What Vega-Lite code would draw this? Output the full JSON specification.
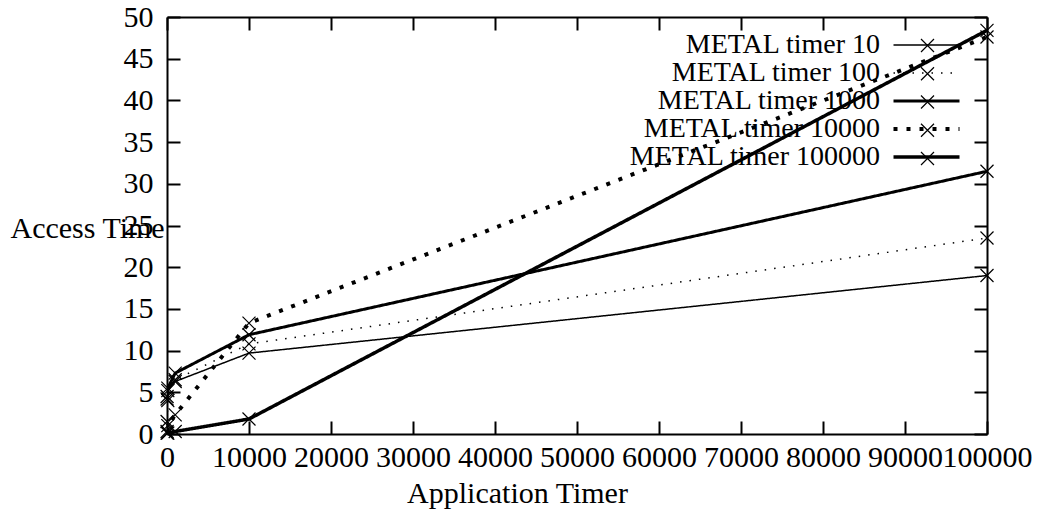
{
  "$schema": "https://vega.github.io/schema/vega-lite/v6.json",
  "width": 820,
  "height": 417,
  "autosize": {"type": "none"},
  "padding": {"left": 167, "top": 17, "right": 50, "bottom": 85},
  "background": "white",
  "data": {
    "values": [
      {"series": "METAL timer 10", "app": 10, "t": 4.5},
      {"series": "METAL timer 10", "app": 100, "t": 5.2},
      {"series": "METAL timer 10", "app": 1000, "t": 6.3},
      {"series": "METAL timer 10", "app": 10000, "t": 9.7},
      {"series": "METAL timer 10", "app": 100000, "t": 19.0},
      {"series": "METAL timer 100", "app": 10, "t": 1.5},
      {"series": "METAL timer 100", "app": 100, "t": 4.0},
      {"series": "METAL timer 100", "app": 1000, "t": 6.5},
      {"series": "METAL timer 100", "app": 10000, "t": 10.8},
      {"series": "METAL timer 100", "app": 100000, "t": 23.5},
      {"series": "METAL timer 1000", "app": 10, "t": 4.2},
      {"series": "METAL timer 1000", "app": 100, "t": 5.5},
      {"series": "METAL timer 1000", "app": 1000, "t": 7.3},
      {"series": "METAL timer 1000", "app": 10000, "t": 11.9},
      {"series": "METAL timer 1000", "app": 100000, "t": 31.5},
      {"series": "METAL timer 10000", "app": 10, "t": 0.3},
      {"series": "METAL timer 10000", "app": 100, "t": 1.0},
      {"series": "METAL timer 10000", "app": 1000, "t": 2.3},
      {"series": "METAL timer 10000", "app": 10000, "t": 13.3},
      {"series": "METAL timer 10000", "app": 100000, "t": 47.6},
      {"series": "METAL timer 100000", "app": 10, "t": 0.1},
      {"series": "METAL timer 100000", "app": 100, "t": 0.1},
      {"series": "METAL timer 100000", "app": 1000, "t": 0.3},
      {"series": "METAL timer 100000", "app": 10000, "t": 1.8},
      {"series": "METAL timer 100000", "app": 100000, "t": 48.4}
    ]
  },
  "layer": [
    {
      "mark": {"type": "line", "color": "black", "strokeCap": "butt", "clip": true},
      "encoding": {
        "x": {
          "field": "app", "type": "quantitative",
          "scale": {"domain": [0, 100000], "nice": false, "zero": false},
          "axis": {
            "orient": "bottom",
            "values": [0, 10000, 20000, 30000, 40000, 50000, 60000, 70000, 80000, 90000, 100000],
            "format": "d",
            "title": "Application Timer",
            "labelPadding": 21,
            "titleX": 350,
            "titleY": 68,
            "titleAlign": "center",
            "titleBaseline": "alphabetic"
          }
        },
        "y": {
          "field": "t", "type": "quantitative",
          "scale": {"domain": [0, 50], "nice": false, "zero": false},
          "axis": {
            "orient": "left",
            "values": [0, 5, 10, 15, 20, 25, 30, 35, 40, 45, 50],
            "title": "Access Time",
            "labelPadding": 27,
            "titleAngle": 0,
            "titleAlign": "left",
            "titleBaseline": "alphabetic",
            "titleX": -157,
            "titleY": 220
          }
        },
        "strokeDash": {
          "field": "series", "type": "nominal",
          "scale": {
            "domain": ["METAL timer 10", "METAL timer 100", "METAL timer 1000", "METAL timer 10000", "METAL timer 100000"],
            "range": [[1, 0], [1.5, 8], [1, 0], [4, 9], [1, 0]]
          },
          "legend": {"title": null}
        },
        "strokeWidth": {
          "field": "series", "type": "nominal",
          "scale": {
            "type": "ordinal",
            "domain": ["METAL timer 10", "METAL timer 100", "METAL timer 1000", "METAL timer 10000", "METAL timer 100000"],
            "range": [1.5, 1.5, 3, 4, 3.5]
          },
          "legend": {"title": null}
        },
        "order": {"field": "app", "type": "quantitative"}
      }
    },
    {
      "mark": {
        "type": "point",
        "filled": false,
        "color": "black",
        "strokeWidth": 1.2,
        "size": 169,
        "opacity": 1
      },
      "encoding": {
        "x": {
          "field": "app", "type": "quantitative",
          "axis": {
            "orient": "top",
            "values": [0, 10000, 20000, 30000, 40000, 50000, 60000, 70000, 80000, 90000, 100000],
            "labels": false,
            "title": null
          }
        },
        "y": {
          "field": "t", "type": "quantitative",
          "axis": {
            "orient": "right",
            "values": [0, 5, 10, 15, 20, 25, 30, 35, 40, 45, 50],
            "labels": false,
            "title": null
          }
        },
        "shape": {
          "field": "series", "type": "nominal",
          "scale": {
            "range": ["M-1,-1L1,1M-1,1L1,-1", "M-1,-1L1,1M-1,1L1,-1", "M-1,-1L1,1M-1,1L1,-1", "M-1,-1L1,1M-1,1L1,-1", "M-1,-1L1,1M-1,1L1,-1"]
          },
          "legend": {
            "title": null,
            "orient": "none",
            "legendX": 753,
            "legendY": 21,
            "symbolSize": 169,
            "symbolType": "M-1,-1L1,1M-1,1L1,-1",
            "symbolStrokeWidth": 1.2,
            "symbolStrokeColor": "black",
            "labelFontSize": 1,
            "labelOpacity": 0,
            "labelOffset": 0,
            "labelAlign": "left",
            "rowPadding": 9.25
          }
        }
      }
    }
  ],
  "config": {
    "view": {"stroke": null},
    "font": "Liberation Serif",
    "axis": {
      "grid": false,
      "domainColor": "black",
      "domainWidth": 2,
      "tickColor": "black",
      "tickWidth": 2,
      "tickSize": -13,
      "labelFont": "Liberation Serif",
      "labelFontSize": 30,
      "labelColor": "black",
      "labelOverlap": false,
      "labelBound": false,
      "labelFlush": false,
      "titleFont": "Liberation Serif",
      "titleFontSize": 30,
      "titleFontWeight": "normal",
      "titleColor": "black"
    },
    "legend": {
      "orient": "none",
      "legendX": 745.5,
      "legendY": 14,
      "padding": 0,
      "labelFont": "Liberation Serif",
      "labelFontSize": 28,
      "labelColor": "black",
      "labelAlign": "right",
      "labelOffset": -60.5,
      "labelLimit": 0,
      "symbolType": "M-3,0L3,0",
      "symbolSize": 484,
      "symbolStrokeColor": "black",
      "symbolOpacity": 1,
      "rowPadding": 0
    }
  }
}
